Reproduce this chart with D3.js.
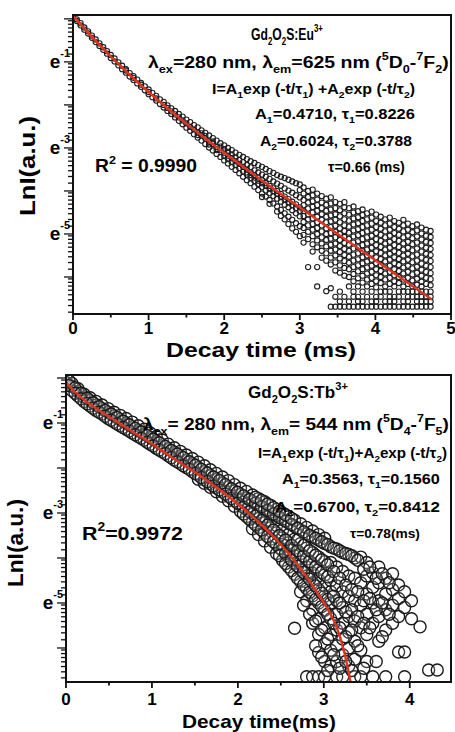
<!DOCTYPE html>
<html>
<head>
<meta charset="utf-8">
<script src="https://cdn.jsdelivr.net/npm/d3@7/dist/d3.min.js"></script>
<style>
  body { margin: 0; background: #fff; }
  svg { display: block; font-family: "Liberation Sans", Arial, sans-serif; font-weight: bold; }
</style>
</head>
<body>
<div id="chart"></div>
<script>
// ---- data ----
// fitted curves, [time (ms), ln I]
const euFit = [[0, 0.071], [0.05, -0.029], [0.1, -0.128], [0.25, -0.417], [0.5, -0.874], [0.75, -1.300],
  [1, -1.700], [1.25, -2.077], [1.5, -2.436], [1.75, -2.780], [2, -3.113], [2.5, -3.757], [3, -4.383],
  [3.5, -4.999], [4, -5.611], [4.5, -6.222], [4.75, -6.527]];
const tbFit = [[0, -0.10], [0.1, -0.30], [0.2, -0.47], [0.3, -0.61], [0.4, -0.74], [0.6, -0.98], [0.8, -1.22],
  [1.0, -1.46], [1.2, -1.72], [1.4, -1.97], [1.6, -2.22], [1.8, -2.50], [2.0, -2.80], [2.2, -3.13],
  [2.4, -3.50], [2.6, -3.92], [2.8, -4.42], [2.95, -4.85], [3.07, -5.22], [3.19, -5.76], [3.28, -6.45], [3.31, -6.76]];

// measured decay points, [time (ms), [ln I values at that time]]
const euScatter = [
  [0.00, [0.08, 0.04]], [0.05, [-0.01, -0.05]], [0.10, [-0.10, -0.15]], [0.15, [-0.20, -0.25]],
  [0.20, [-0.29, -0.34]], [0.25, [-0.39, -0.44]], [0.30, [-0.48, -0.54]], [0.35, [-0.57, -0.63]],
  [0.40, [-0.66, -0.72]], [0.45, [-0.75, -0.81]], [0.50, [-0.84, -0.91]], [0.55, [-0.92, -0.99]],
  [0.60, [-1.01, -1.08]], [0.65, [-1.09, -1.17]], [0.70, [-1.17, -1.25, -1.20]], [0.75, [-1.26, -1.34]],
  [0.80, [-1.33, -1.42, -1.37]], [0.85, [-1.41, -1.50]], [0.90, [-1.49, -1.58, -1.53]], [0.95, [-1.57, -1.66]],
  [1.00, [-1.64, -1.75, -1.70]], [1.05, [-1.72, -1.82]], [1.10, [-1.79, -1.90, -1.85]], [1.15, [-1.87, -1.98]],
  [1.20, [-1.93, -2.06, -2.00]], [1.25, [-2.01, -2.14, -2.07]], [1.30, [-2.08, -2.21, -2.15]],
  [1.35, [-2.14, -2.29, -2.22]], [1.40, [-2.21, -2.37, -2.29]], [1.45, [-2.27, -2.45, -2.36]],
  [1.50, [-2.34, -2.53, -2.43]], [1.55, [-2.40, -2.60, -2.51]], [1.60, [-2.47, -2.68, -2.57]],
  [1.65, [-2.52, -2.76, -2.64, -2.70]], [1.70, [-2.59, -2.83, -2.71, -2.66]], [1.75, [-2.65, -2.91, -2.78, -2.72]],
  [1.80, [-2.71, -2.99, -2.85, -2.92]], [1.85, [-2.77, -3.06, -2.91, -2.85]], [1.90, [-2.83, -3.14, -2.98, -3.05]],
  [1.95, [-2.89, -3.21, -3.04, -2.97]], [2.00, [-2.94, -3.29, -3.11, -3.19, -3.03]],
  [2.05, [-3.00, -3.36, -3.18, -3.26, -3.09]], [2.10, [-3.05, -3.44, -3.24, -3.33, -3.15]],
  [2.15, [-3.11, -3.51, -3.31, -3.40, -3.22]], [2.20, [-3.16, -3.59, -3.37, -3.47, -3.28]],
  [2.25, [-3.21, -3.67, -3.44, -3.55, -3.33]], [2.30, [-3.26, -3.75, -3.50, -3.62, -3.40, -3.57]],
  [2.35, [-3.31, -3.82, -3.56, -3.70, -3.45, -3.63]], [2.40, [-3.35, -3.90, -3.63, -3.77, -3.52, -3.69]],
  [2.45, [-3.40, -3.98, -3.69, -3.84, -3.57, -3.76]], [2.50, [-3.44, -4.06, -3.75, -3.91, -3.62, -3.82, -4.14]],
  [2.55, [-3.49, -4.13, -3.82, -3.99, -3.67, -3.88]], [2.60, [-3.54, -4.21, -3.88, -4.05, -3.72, -3.95, -4.30]],
  [2.65, [-3.58, -4.29, -3.94, -4.12, -3.78, -4.01]], [2.70, [-3.63, -4.36, -4.00, -4.18, -3.83, -4.07, -4.48]],
  [2.75, [-3.67, -4.44, -4.07, -4.25, -3.88, -4.14, -4.58]], [2.80, [-3.70, -4.52, -4.13, -4.32, -3.94, -4.20, -4.66]],
  [2.85, [-3.74, -4.60, -4.19, -4.38, -3.99, -4.27, -4.77]], [2.90, [-3.78, -4.67, -4.25, -4.45, -4.04, -4.33, -4.87]],
  [2.95, [-3.82, -4.75, -4.31, -4.52, -4.10, -4.40, -4.95]],
  [3.00, [-3.85, -4.82, -4.38, -4.59, -4.15, -4.47, -5.05, -3.98]],
  [3.05, [-3.92, -4.06, -4.21, -4.33, -4.47, -4.58, -4.72, -4.86, -5.02, -5.20]],
  [3.11, [-4.00, -4.14, -4.27, -4.41, -4.55, -4.66, -4.80, -4.95, -5.12, -5.77]],
  [3.17, [-3.97, -4.10, -4.24, -4.37, -4.50, -4.64, -4.77, -4.90, -5.05, -5.24, -5.41]],
  [3.23, [-4.06, -4.20, -4.33, -4.46, -4.60, -4.73, -4.86, -5.00, -5.15, -5.31, -6.22, -5.77]],
  [3.29, [-4.12, -4.27, -4.40, -4.54, -4.67, -4.80, -4.94, -5.08, -5.22, -5.39, -5.55]],
  [3.35, [-4.18, -4.32, -4.46, -4.60, -4.73, -4.87, -5.00, -5.14, -5.29, -5.45, -5.62, -6.33]],
  [3.41, [-4.15, -4.29, -4.43, -4.57, -4.71, -4.84, -4.98, -5.11, -5.25, -5.39, -5.55, -5.71, -6.26, -6.69]],
  [3.47, [-4.26, -4.40, -4.54, -4.67, -4.81, -4.95, -5.08, -5.22, -5.36, -5.50, -5.66, -5.85, -6.46, -6.69]],
  [3.53, [-4.30, -4.45, -4.59, -4.73, -4.87, -5.00, -5.14, -5.28, -5.42, -5.57, -5.73, -5.90, -6.34, -6.57, -6.69]],
  [3.59, [-4.26, -4.38, -4.52, -4.66, -4.80, -4.93, -5.07, -5.21, -5.35, -5.49, -5.63, -5.79, -5.97, -6.46, -6.69]],
  [3.65, [-4.40, -4.55, -4.69, -4.83, -4.97, -5.11, -5.25, -5.39, -5.53, -5.67, -5.82, -6.00, -6.22, -6.57, -6.69]],
  [3.71, [-4.36, -4.50, -4.64, -4.78, -4.92, -5.06, -5.20, -5.34, -5.48, -5.62, -5.77, -5.93, -6.10, -6.34, -6.46, -6.69]],
  [3.77, [-4.47, -4.61, -4.75, -4.89, -5.03, -5.17, -5.31, -5.45, -5.59, -5.73, -5.87, -6.03, -6.22, -6.46, -6.57, -6.69]],
  [3.83, [-4.43, -4.56, -4.70, -4.84, -4.98, -5.12, -5.26, -5.40, -5.54, -5.68, -5.82, -5.97, -6.13, -6.34, -6.57, -6.69]],
  [3.89, [-4.52, -4.66, -4.80, -4.94, -5.08, -5.22, -5.36, -5.50, -5.64, -5.78, -5.92, -6.06, -6.22, -6.46, -6.69]],
  [3.95, [-4.48, -4.62, -4.76, -4.90, -5.04, -5.18, -5.32, -5.46, -5.60, -5.74, -5.88, -6.02, -6.16, -6.34, -6.57, -6.69]],
  [4.01, [-4.55, -4.70, -4.84, -4.98, -5.12, -5.26, -5.40, -5.54, -5.68, -5.82, -5.96, -6.10, -6.24, -6.46, -6.57, -6.69]],
  [4.07, [-4.60, -4.74, -4.88, -5.02, -5.16, -5.30, -5.44, -5.58, -5.72, -5.86, -6.00, -6.14, -6.34, -6.46, -6.69]],
  [4.13, [-4.66, -4.80, -4.94, -5.08, -5.22, -5.36, -5.50, -5.64, -5.78, -5.92, -6.06, -6.22, -6.34, -6.57, -6.69]],
  [4.19, [-4.62, -4.76, -4.90, -5.04, -5.18, -5.32, -5.46, -5.60, -5.74, -5.88, -6.02, -6.16, -6.34, -6.46, -6.57, -6.69]],
  [4.25, [-4.70, -4.84, -4.98, -5.12, -5.26, -5.40, -5.54, -5.68, -5.82, -5.96, -6.10, -6.22, -6.46, -6.57, -6.69]],
  [4.31, [-4.74, -4.88, -5.02, -5.16, -5.30, -5.44, -5.58, -5.72, -5.86, -6.00, -6.14, -6.34, -6.46, -6.69]],
  [4.37, [-4.67, -4.80, -4.94, -5.08, -5.22, -5.36, -5.50, -5.64, -5.78, -5.92, -6.06, -6.22, -6.34, -6.57, -6.69]],
  [4.43, [-4.76, -4.90, -5.04, -5.18, -5.32, -5.46, -5.60, -5.74, -5.88, -6.02, -6.16, -6.34, -6.46, -6.57, -6.69]],
  [4.49, [-4.82, -4.96, -5.10, -5.24, -5.38, -5.52, -5.66, -5.80, -5.94, -6.08, -6.22, -6.34, -6.46, -6.69]],
  [4.55, [-4.78, -4.92, -5.06, -5.20, -5.34, -5.48, -5.62, -5.76, -5.90, -6.04, -6.18, -6.34, -6.46, -6.57, -6.69]],
  [4.61, [-4.85, -4.99, -5.13, -5.27, -5.41, -5.55, -5.69, -5.83, -5.97, -6.11, -6.22, -6.34, -6.46, -6.57, -6.69]],
  [4.67, [-4.90, -5.04, -5.18, -5.32, -5.46, -5.60, -5.74, -5.88, -6.02, -6.16, -6.34, -6.46, -6.57, -6.69]],
  [4.73, [-4.93, -5.07, -5.21, -5.35, -5.49, -5.63, -5.77, -5.91, -6.05, -6.19, -6.34, -6.46, -6.57, -6.69]]
];

const tbScatter = [
  [0.00, [0.00, -0.10]], [0.07, [-0.18, -0.28, -0.12]], [0.14, [-0.30, -0.40, -0.24]],
  [0.21, [-0.42, -0.52, -0.36]], [0.28, [-0.50, -0.62, -0.44]], [0.35, [-0.60, -0.72, -0.52]],
  [0.42, [-0.68, -0.80, -0.60]], [0.49, [-0.76, -0.90, -0.68]], [0.56, [-0.84, -0.98, -0.76]],
  [0.63, [-0.92, -1.06, -0.83]], [0.70, [-1.00, -1.14, -0.90]], [0.77, [-1.08, -1.22, -0.98]],
  [0.84, [-1.16, -1.30, -1.06]], [0.91, [-1.24, -1.38, -1.14]], [0.98, [-1.32, -1.47, -1.22]],
  [1.05, [-1.40, -1.56, -1.30]], [1.12, [-1.48, -1.64, -1.38]], [1.19, [-1.57, -1.73, -1.47]],
  [1.26, [-1.65, -1.82, -1.55]], [1.33, [-1.73, -1.90, -1.63]], [1.40, [-1.82, -1.99, -1.71]],
  [1.47, [-1.90, -2.08, -1.79]], [1.54, [-1.99, -2.16, -1.87, -2.25]], [1.61, [-2.07, -2.26, -1.95, -2.34]],
  [1.68, [-2.16, -2.35, -2.04, -2.43]], [1.75, [-2.24, -2.44, -2.12, -2.53]], [1.82, [-2.33, -2.53, -2.20, -2.63]],
  [1.89, [-2.42, -2.63, -2.28, -2.73]], [1.96, [-2.51, -2.73, -2.37, -2.85]],
  [2.03, [-2.58, -2.82, -2.45, -2.96, -2.70]], [2.10, [-2.66, -2.92, -2.52, -3.08, -2.80]],
  [2.17, [-2.74, -3.02, -2.60, -3.20, -2.90, -3.35]], [2.24, [-2.82, -3.12, -2.68, -3.32, -2.98, -3.48]],
  [2.31, [-2.90, -3.22, -2.75, -3.45, -3.08, -3.62]], [2.38, [-2.98, -3.33, -2.83, -3.58, -3.18, -3.76]],
  [2.45, [-3.06, -3.44, -2.92, -3.70, -3.28, -3.90]], [2.52, [-3.14, -3.55, -3.00, -3.84, -3.38, -4.05, -3.70]],
  [2.59, [-3.22, -3.66, -3.08, -3.98, -3.48, -4.20, -3.82]],
  [2.66, [-3.30, -3.78, -3.16, -4.12, -3.58, -4.36, -3.95, -5.56]],
  [2.73, [-3.38, -3.90, -3.24, -4.26, -3.68, -4.52, -4.08, -4.75]],
  [2.80, [-3.46, -4.02, -3.32, -4.40, -3.78, -4.68, -4.20, -4.95, -6.64]],
  [2.87, [-3.53, -4.14, -3.40, -4.55, -3.88, -4.84, -4.34, -5.15, -5.45, -6.64]],
  [2.94, [-3.60, -4.26, -3.48, -4.70, -3.98, -5.00, -4.48, -5.35, -5.70, -6.10, -6.64]],
  [3.01, [-3.68, -4.38, -3.56, -4.85, -4.08, -5.16, -4.62, -5.55, -5.90, -6.30, -6.64]],
  [3.08, [-3.75, -4.50, -4.10, -5.00, -4.75, -5.35, -5.70, -6.05, -6.40]],
  [3.15, [-3.80, -4.20, -4.62, -4.95, -5.25, -5.60, -5.95, -6.30, -6.64]],
  [3.22, [-3.88, -4.30, -4.75, -5.10, -5.45, -5.80, -6.15, -6.64]],
  [3.29, [-3.92, -4.40, -4.85, -5.30, -5.65, -6.00, -6.40]],
  [3.36, [-4.00, -4.45, -4.95, -5.40, -5.85, -6.25, -6.64]],
  [3.43, [-3.98, -4.55, -5.05, -5.55, -6.05, -6.64]],
  [3.50, [-4.10, -4.40, -4.80, -5.25, -5.70, -6.30]],
  [3.57, [-4.33, -4.65, -5.00, -5.45, -6.64]],
  [3.64, [-4.20, -4.55, -4.95, -5.30, -5.85]],
  [3.72, [-4.45, -4.80, -5.15, -5.60, -6.64]],
  [3.80, [-4.35, -4.70, -5.05, -5.45]],
  [3.87, [-4.60, -4.90, -5.30, -6.09]],
  [3.94, [-4.75, -5.10, -6.09, -6.64]],
  [4.02, [-4.95, -5.35]],
  [4.12, [-5.53]],
  [4.22, [-6.49]],
  [4.32, [-6.49]],
  [0.035, [-0.06, -0.17]], [0.105, [-0.22, -0.34]], [0.175, [-0.34, -0.46]], [0.245, [-0.45, -0.57]],
  [0.315, [-0.55, -0.67]], [0.385, [-0.64, -0.76]], [0.455, [-0.72, -0.85]], [0.525, [-0.80, -0.94]],
  [0.595, [-0.88, -1.02]], [0.665, [-0.96, -1.10]], [0.735, [-1.04, -1.18]], [0.805, [-1.12, -1.26]],
  [0.875, [-1.20, -1.34]], [0.945, [-1.28, -1.43]], [1.015, [-1.36, -1.51]], [1.085, [-1.44, -1.60]],
  [1.155, [-1.52, -1.68]], [1.225, [-1.61, -1.77]], [1.295, [-1.69, -1.86]], [1.365, [-1.77, -1.95]],
  [1.435, [-1.86, -2.03]], [1.505, [-1.94, -2.12]], [1.575, [-2.03, -2.21]], [1.645, [-2.11, -2.30]],
  [1.715, [-2.20, -2.40]], [1.785, [-2.28, -2.49]], [1.855, [-2.37, -2.58]], [1.925, [-2.46, -2.68]],
  [1.995, [-2.54, -2.78]], [2.065, [-2.62, -2.87, -3.02]], [2.135, [-2.70, -2.97, -3.14]],
  [2.205, [-2.78, -3.07, -3.26, -2.65]], [2.275, [-2.86, -3.17, -3.38, -2.72]],
  [2.345, [-2.94, -3.27, -3.52, -2.80]], [2.415, [-3.02, -3.38, -3.64, -2.88]],
  [2.485, [-3.10, -3.50, -3.78, -2.96, -3.95]], [2.555, [-3.18, -3.60, -3.90, -3.04, -4.12]],
  [2.625, [-3.26, -3.72, -4.05, -3.12, -4.28]], [2.695, [-3.34, -3.84, -4.18, -4.45, -3.60]],
  [2.765, [-3.42, -3.96, -4.32, -4.60, -3.72, -5.05]], [2.835, [-3.50, -4.08, -4.47, -4.76, -3.84, -5.25]],
  [2.905, [-3.56, -4.20, -4.62, -4.92, -3.94, -5.40, -5.95]], [2.975, [-3.64, -4.32, -4.78, -5.08, -4.04, -5.60, -6.20]],
  [3.045, [-3.70, -4.42, -4.92, -5.25, -4.15, -5.80, -6.50]], [3.115, [-3.78, -4.30, -4.85, -5.45, -6.15]],
  [3.185, [-3.84, -4.45, -5.00, -5.55, -6.45]], [3.255, [-3.90, -4.60, -5.20, -5.75, -6.30]],
  [3.325, [-3.95, -4.70, -5.15, -5.60, -6.50]], [3.395, [-4.05, -4.75, -5.30, -5.95]],
  [3.465, [-4.25, -4.95, -5.45, -6.45]], [3.535, [-4.20, -4.90, -5.55]],
  [3.61, [-4.45, -5.15, -6.30]], [3.68, [-4.35, -5.00, -5.75]], [3.76, [-4.55, -5.25]]
];

const euXTicks = [0, 1, 2, 3, 4, 5];
const tbXTicks = [0, 1, 2, 3, 4];
const yTickLabels = [-1, -3, -5];
const minorK = [1.2, 1.4, 1.6, 1.8, 2.0, 2.2, 2.4, 2.6];

// annotation texts: segments [string, 0 normal | 1 sub | 2 sup]
const euTexts = [
  [["Gd", 0], ["2", 1], ["O", 0], ["2", 1], ["S:Eu", 0], ["3+", 2]],
  [["λ", 0], ["ex", 1], ["=280 nm, ", 0], ["λ", 0], ["em", 1], ["=625 nm  (", 0], ["5", 2], ["D", 0], ["0", 1], ["-", 0], ["7", 2], ["F", 0], ["2", 1], [")", 0]],
  [["I=A", 0], ["1", 1], ["exp (-t/τ", 0], ["1", 1], [") +A", 0], ["2", 1], ["exp (-t/τ", 0], ["2", 1], [")", 0]],
  [["A", 0], ["1", 1], ["=0.4710, τ", 0], ["1", 1], ["=0.8226", 0]],
  [["A", 0], ["2", 1], ["=0.6024, τ", 0], ["2", 1], ["=0.3788", 0]],
  [["τ=0.66 (ms)", 0]],
  [["R", 0], ["2", 2], [" = 0.9990", 0]]
];
const tbTexts = [
  [["Gd", 0], ["2", 1], ["O", 0], ["2", 1], ["S:Tb", 0], ["3+", 2]],
  [["λ", 0], ["ex", 1], ["= 280 nm, ", 0], ["λ", 0], ["em", 1], ["= 544 nm  (", 0], ["5", 2], ["D", 0], ["4", 1], ["-", 0], ["7", 2], ["F", 0], ["5", 1], [")", 0]],
  [["I=A", 0], ["1", 1], ["exp (-t/τ", 0], ["1", 1], [")+A", 0], ["2", 1], ["exp (-t/τ", 0], ["2", 1], [")", 0]],
  [["A", 0], ["1", 1], ["=0.3563, τ", 0], ["1", 1], ["=0.1560", 0]],
  [["A", 0], ["2", 1], ["=0.6700, τ", 0], ["2", 1], ["=0.8412", 0]],
  [["τ=0.78(ms)", 0]],
  [["R", 0], ["2", 2], ["=0.9972", 0]]
];

// ---- layout ----
const width = 455, height = 732;

const svg = d3.select("#chart").append("svg")
  .attr("width", width)
  .attr("height", height);

// rich text at a given font size, squeezed/stretched horizontally to span x0..x1 on baseline y
function richText(g, x0, x1, y, parts, size) {
  const text = g.append("text").attr("font-size", size);
  let off = 0;
  parts.forEach(([s, k]) => {
    const target = k === 1 ? 0.28 * size : k === 2 ? -0.45 * size : 0;
    text.append("tspan")
      .attr("dy", target - off)
      .attr("font-size", k ? size * 0.65 : size)
      .text(s);
    off = target;
  });
  const w = text.node().getComputedTextLength();
  text.attr("transform", `translate(${x0},${y}) scale(${(x1 - x0) / w},1)`);
  return text;
}

function panel(cfg) {
  const g = svg.append("g");
  const x = d3.scaleLinear().domain(cfg.xDomain).range([cfg.left, cfg.right]);
  const y = d3.scaleLinear().domain(cfg.yDomain).range([cfg.bottom, cfg.top]);

  const clipId = "clip" + cfg.id;
  g.append("clipPath").attr("id", clipId)
    .append("rect")
    .attr("x", cfg.left).attr("y", cfg.top)
    .attr("width", cfg.right - cfg.left).attr("height", cfg.bottom - cfg.top);

  const points = cfg.scatter.flatMap(([t, vs]) => vs.map(v => [t, v]));

  g.append("g")
    .attr("clip-path", `url(#${clipId})`)
    .selectAll("circle")
    .data(points)
    .join("circle")
    .attr("cx", d => x(d[0]))
    .attr("cy", d => y(d[1]))
    .attr("r", cfg.r)
    .attr("fill", cfg.fill)
    .attr("fill-opacity", cfg.fillOpacity)
    .attr("stroke", cfg.stroke)
    .attr("stroke-width", cfg.sw);

  const line = d3.line()
    .x(d => x(d[0]))
    .y(d => y(d[1]))
    .curve(d3.curveMonotoneX);

  g.append("path")
    .datum(cfg.fit)
    .attr("clip-path", `url(#${clipId})`)
    .attr("d", line)
    .attr("fill", "none")
    .attr("stroke", "#dd3522")
    .attr("stroke-width", 2.4);

  // frame
  g.append("rect")
    .attr("x", cfg.left).attr("y", cfg.top)
    .attr("width", cfg.right - cfg.left).attr("height", cfg.bottom - cfg.top)
    .attr("fill", "none")
    .attr("stroke", "#111")
    .attr("stroke-width", 2);

  // x axis ticks
  const xMinor = d3.range(0.5, cfg.xDomain[1], 1);
  g.append("g").selectAll("line")
    .data(cfg.xTicks.map(v => [v, 6]).concat(xMinor.map(v => [v, 3.5])))
    .join("line")
    .attr("x1", d => x(d[0])).attr("x2", d => x(d[0]))
    .attr("y1", cfg.bottom).attr("y2", d => cfg.bottom + d[1])
    .attr("stroke", "#111").attr("stroke-width", 1.8);

  g.append("g").selectAll("text")
    .data(cfg.xTicks)
    .join("text")
    .attr("x", d => x(d))
    .attr("y", cfg.xLabelY)
    .attr("text-anchor", "middle")
    .attr("font-size", 17)
    .text(d => d);

  // y axis ticks (natural-log scale)
  const [y0, y1] = cfg.yDomain;
  const majors = d3.range(Math.ceil(y0), Math.floor(y1) + 1);
  const minors = [];
  d3.range(Math.floor(y0) - 1, Math.ceil(y1) + 1).forEach(n => {
    minorK.forEach(k => {
      const v = n + Math.log(k);
      if (v > y0 && v < y1) minors.push(v);
    });
  });
  g.append("g").selectAll("line")
    .data(majors.map(v => [v, 9]).concat(minors.map(v => [v, 5])))
    .join("line")
    .attr("x1", cfg.left).attr("x2", d => cfg.left - d[1])
    .attr("y1", d => y(d[0])).attr("y2", d => y(d[0]))
    .attr("stroke", "#111").attr("stroke-width", 1.3);

  yTickLabels.forEach(v => {
    const t = g.append("text")
      .attr("x", cfg.left - 3)
      .attr("y", y(v) + 6)
      .attr("text-anchor", "end")
      .attr("font-size", 19);
    t.append("tspan").text("e");
    t.append("tspan").attr("dy", -11).attr("font-size", 11).text(v);
  });

  // axis titles
  richText(g, cfg.xTitle[0], cfg.xTitle[1], cfg.xTitle[2], [[cfg.xTitle[3], 0]], cfg.xTitle[4]);

  const yt = g.append("g")
    .attr("transform", `translate(${cfg.yTitle[0]},${cfg.yTitle[1]}) rotate(-90)`);
  richText(yt, -cfg.yTitle[2] / 2, cfg.yTitle[2] / 2, 0, [["LnI(a.u.)", 0]], 22);

  // annotations
  cfg.texts.forEach((t, i) => {
    const [x0, x1, by, size] = cfg.textPos[i];
    richText(g, x0, x1, by, t, size);
  });
}

panel({
  id: "eu",
  left: 73, right: 451, top: 15, bottom: 314,
  xDomain: [0, 5], yDomain: [-6.86, 0.09],
  xTicks: euXTicks, xLabelY: 334,
  r: 2.6, sw: 1.1, fill: "none", fillOpacity: 0, stroke: "#1e1e1e",
  fit: euFit, scatter: euScatter,
  xTitle: [166, 356, 357, "Decay time (ms)", 21],
  yTitle: [35, 166, 100],
  texts: euTexts,
  textPos: [[251, 323, 40, 17], [148, 449, 68, 17], [212, 415, 94, 14], [255, 415, 119, 15],
            [260, 412, 146, 15], [328, 405, 172, 14], [95, 197, 172, 18]]
});

panel({
  id: "tb",
  left: 66, right: 451, top: 375, bottom: 682,
  xDomain: [0, 4.48], yDomain: [-6.756, 0.067],
  xTicks: tbXTicks, xLabelY: 705,
  r: 6, sw: 1.4, fill: "#fff", fillOpacity: 0.15, stroke: "#1a1a1a",
  fit: tbFit, scatter: tbScatter,
  xTitle: [182, 336, 728, "Decay time(ms)", 18],
  yTitle: [23, 543, 88],
  texts: tbTexts,
  textPos: [[248, 348, 398, 17], [143, 449, 430, 17], [258, 447, 458, 14], [282, 440, 484, 14],
            [275, 440, 512, 15], [350, 420, 538, 13], [82, 183, 540, 19]]
});
</script>
</body>
</html>
